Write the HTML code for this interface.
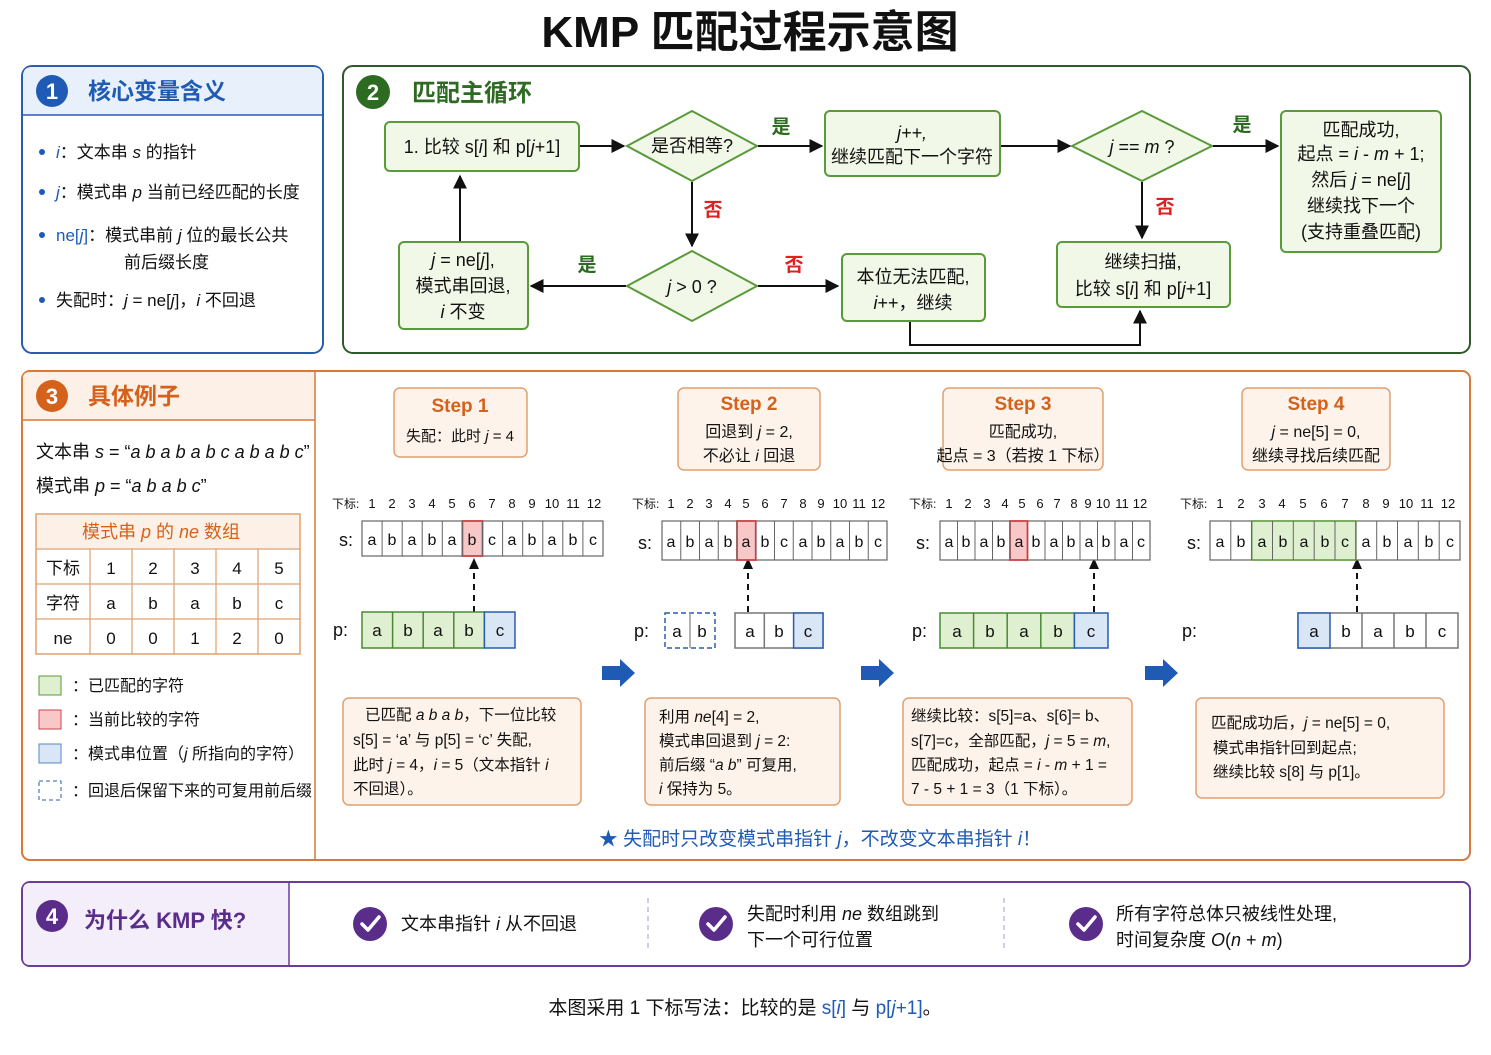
<!DOCTYPE html>
<html><head><meta charset="utf-8"><style>
body{margin:0;background:#fff;}
svg{display:block;font-family:"Liberation Sans","Noto Sans CJK SC",sans-serif;}
.it{font-style:italic}
</style></head><body>
<svg width="1491" height="1055" viewBox="0 0 1491 1055" xmlns="http://www.w3.org/2000/svg">
<defs>
<marker id="ah" viewBox="0 0 10 10" refX="9" refY="5" markerWidth="7" markerHeight="7" orient="auto"><path d="M0,0L10,5L0,10z" fill="#111"/></marker>
</defs>
<text x="750" y="47" font-size="44" font-weight="bold" text-anchor="middle" fill="#111">KMP 匹配过程示意图</text>

<!-- Panel 1 -->
<rect x="22" y="66" width="301" height="287" rx="10" fill="#fff" stroke="#2a5db0" stroke-width="2"/>
<path d="M23,115 L23,76 Q23,67 32,67 L313,67 Q322,67 322,76 L322,115 Z" fill="#e8f0fb"/>
<line x1="22" y1="115" x2="323" y2="115" stroke="#2a5db0" stroke-width="1.5"/>
<circle cx="52" cy="91" r="16" fill="#1f5bb5"/><text x="52" y="99" font-size="22" font-weight="bold" fill="#fff" text-anchor="middle">1</text>
<text x="88" y="99" font-size="23" font-weight="bold" fill="#1f5bb5">核心变量含义</text>
<g font-size="17" fill="#111">
<circle cx="42" cy="152" r="3" fill="#1f5bb5"/><text x="56" y="158"><tspan class="it" fill="#1f5bb5">i</tspan>：文本串 <tspan class="it">s</tspan> 的指针</text>
<circle cx="42" cy="192" r="3" fill="#1f5bb5"/><text x="56" y="198"><tspan class="it" fill="#1f5bb5">j</tspan>：模式串 <tspan class="it">p</tspan> 当前已经匹配的长度</text>
<circle cx="42" cy="235" r="3" fill="#1f5bb5"/><text x="56" y="241"><tspan fill="#1f5bb5">ne[<tspan class="it">j</tspan>]</tspan>：模式串前 <tspan class="it">j</tspan> 位的最长公共</text>
<text x="124" y="268">前后缀长度</text>
<circle cx="42" cy="300" r="3" fill="#1f5bb5"/><text x="56" y="306">失配时：<tspan class="it">j</tspan> = ne[<tspan class="it">j</tspan>]，<tspan class="it">i</tspan> 不回退</text>
</g>

<!-- Panel 2 -->
<rect x="343" y="66" width="1127" height="287" rx="10" fill="#fff" stroke="#2f5a2a" stroke-width="2"/>
<circle cx="373" cy="92" r="17" fill="#2e6b22"/><text x="373" y="100" font-size="22" font-weight="bold" fill="#fff" text-anchor="middle">2</text>
<text x="412" y="101" font-size="24" font-weight="bold" fill="#2e6b22">匹配主循环</text>
<g stroke="#5a9a3a" stroke-width="2" fill="#f1f8e8">
<rect x="385" y="122" width="194" height="49" rx="5"/>
<polygon points="627,146 692,111 757,146 692,181"/>
<rect x="825" y="111" width="175" height="65" rx="5"/>
<polygon points="1072,146 1142,111 1212,146 1142,181"/>
<rect x="1281" y="111" width="160" height="141" rx="5"/>
<polygon points="627,286 692,251 757,286 692,321"/>
<rect x="399" y="242" width="129" height="87" rx="5"/>
<rect x="842" y="254" width="143" height="67" rx="5"/>
<rect x="1057" y="242" width="173" height="65" rx="5"/>
</g>
<g font-size="18" fill="#111" text-anchor="middle">
<text x="482" y="153">1. 比较 s[<tspan class="it">i</tspan>] 和 p[<tspan class="it">j</tspan>+1]</text>
<text x="692" y="152">是否相等?</text>
<text x="912" y="139" class="it">j++,</text>
<text x="912" y="163">继续匹配下一个字符</text>
<text x="1142" y="153"><tspan class="it">j</tspan> == <tspan class="it">m</tspan> ?</text>
<text x="1361" y="136">匹配成功,</text>
<text x="1361" y="160">起点 = <tspan class="it">i</tspan> - <tspan class="it">m</tspan> + 1;</text>
<text x="1361" y="186">然后 <tspan class="it">j</tspan> = ne[<tspan class="it">j</tspan>]</text>
<text x="1361" y="212">继续找下一个</text>
<text x="1361" y="238">(支持重叠匹配)</text>
<text x="692" y="293"><tspan class="it">j</tspan> &gt; 0 ?</text>
<text x="463" y="266"><tspan class="it">j</tspan> = ne[<tspan class="it">j</tspan>],</text>
<text x="463" y="292">模式串回退,</text>
<text x="463" y="318"><tspan class="it">i</tspan> 不变</text>
<text x="913" y="283">本位无法匹配,</text>
<text x="913" y="309"><tspan class="it">i</tspan>++，继续</text>
<text x="1143" y="268">继续扫描,</text>
<text x="1143" y="295">比较 s[<tspan class="it">i</tspan>] 和 p[<tspan class="it">j</tspan>+1]</text>
</g>
<g stroke="#111" stroke-width="2" fill="none" marker-end="url(#ah)">
<line x1="580" y1="146" x2="624" y2="146"/>
<line x1="758" y1="146" x2="822" y2="146"/>
<line x1="1001" y1="146" x2="1070" y2="146"/>
<line x1="1213" y1="146" x2="1278" y2="146"/>
<line x1="692" y1="182" x2="692" y2="246"/>
<line x1="1142" y1="182" x2="1142" y2="238"/>
<line x1="626" y1="286" x2="531" y2="286"/>
<line x1="758" y1="286" x2="838" y2="286"/>
<line x1="460" y1="241" x2="460" y2="176"/>
<polyline points="910,322 910,345 1140,345 1140,311"/>
</g>
<g font-size="19" font-weight="bold">
<text x="781" y="133" fill="#2e6b22" text-anchor="middle">是</text>
<text x="1242" y="131" fill="#2e6b22" text-anchor="middle">是</text>
<text x="587" y="271" fill="#2e6b22" text-anchor="middle">是</text>
<text x="713" y="216" fill="#d22" text-anchor="middle">否</text>
<text x="1165" y="213" fill="#d22" text-anchor="middle">否</text>
<text x="794" y="271" fill="#d22" text-anchor="middle">否</text>
</g>

<!-- Panel 3 -->
<rect x="22" y="371" width="1448" height="489" rx="8" fill="#fff" stroke="#d9793a" stroke-width="2"/>
<path d="M23,420 L23,378 Q23,372 30,372 L315,372 L315,420 Z" fill="#fdf0e6"/>
<line x1="22" y1="420" x2="315" y2="420" stroke="#d9793a" stroke-width="1.5"/>
<line x1="315" y1="371" x2="315" y2="860" stroke="#d9793a" stroke-width="1.5"/>
<circle cx="52" cy="396" r="16" fill="#d4621c"/><text x="52" y="404" font-size="22" font-weight="bold" fill="#fff" text-anchor="middle">3</text>
<text x="88" y="404" font-size="23" font-weight="bold" fill="#d4621c">具体例子</text>
<text x="36" y="458" font-size="18" fill="#111">文本串 <tspan class="it">s</tspan> = “<tspan class="it">a b a b a b c a b a b c</tspan>”</text>
<text x="36" y="492" font-size="18" fill="#111">模式串 <tspan class="it">p</tspan> = “<tspan class="it">a b a b c</tspan>”</text>
<rect x="36" y="514" width="264" height="140" fill="#fff" stroke="#e0a070" stroke-width="1.5"/>
<rect x="37" y="515" width="262" height="34" fill="#fdf0e6"/>
<text x="161" y="538" font-size="18" fill="#d4621c" text-anchor="middle">模式串 <tspan class="it">p</tspan> 的 <tspan class="it">ne</tspan> 数组</text>
<g stroke="#e0a070" stroke-width="1.2">
<line x1="36" y1="549" x2="300" y2="549"/><line x1="36" y1="584" x2="300" y2="584"/><line x1="36" y1="619" x2="300" y2="619"/>
<line x1="90" y1="549" x2="90" y2="654"/><line x1="132" y1="549" x2="132" y2="654"/><line x1="174" y1="549" x2="174" y2="654"/><line x1="216" y1="549" x2="216" y2="654"/><line x1="258" y1="549" x2="258" y2="654"/>
</g>
<g font-size="17" fill="#111" text-anchor="middle">
<text x="63" y="574">下标</text><text x="111" y="574">1</text><text x="153" y="574">2</text><text x="195" y="574">3</text><text x="237" y="574">4</text><text x="279" y="574">5</text>
<text x="63" y="609">字符</text><text x="111" y="609">a</text><text x="153" y="609">b</text><text x="195" y="609">a</text><text x="237" y="609">b</text><text x="279" y="609">c</text>
<text x="63" y="644">ne</text><text x="111" y="644">0</text><text x="153" y="644">0</text><text x="195" y="644">1</text><text x="237" y="644">2</text><text x="279" y="644">0</text>
</g>
<rect x="39" y="676" width="22" height="19" fill="#dff0d0" stroke="#5a9a3a"/>
<rect x="39" y="710" width="22" height="19" fill="#f8c8c8" stroke="#c44"/>
<rect x="39" y="744" width="22" height="19" fill="#d8e6f6" stroke="#5a86c4"/>
<rect x="39" y="781" width="22" height="19" fill="#fff" stroke="#2a5db0" stroke-dasharray="4,3"/>
<g font-size="16" fill="#111">
<text x="72" y="691">：已匹配的字符</text>
<text x="72" y="725">：当前比较的字符</text>
<text x="72" y="759">：模式串位置（<tspan class="it">j</tspan> 所指向的字符）</text>
<text x="72" y="796">：回退后保留下来的可复用前后缀</text>
</g>

<!-- Step boxes -->
<g stroke="#e0a070" stroke-width="1.5" fill="#fdf3ea">
<rect x="394" y="388" width="133" height="69" rx="6"/>
<rect x="678" y="388" width="142" height="82" rx="6"/>
<rect x="943" y="388" width="160" height="82" rx="6"/>
<rect x="1242" y="388" width="148" height="82" rx="6"/>
</g>
<g text-anchor="middle">
<text x="460" y="412" font-size="19" font-weight="bold" fill="#d4621c">Step 1</text>
<text x="460" y="441" font-size="15" fill="#111">失配：此时 <tspan class="it">j</tspan> = 4</text>
<text x="749" y="410" font-size="19" font-weight="bold" fill="#d4621c">Step 2</text>
<text x="749" y="437" font-size="16" fill="#111">回退到 <tspan class="it">j</tspan> = 2,</text>
<text x="749" y="461" font-size="16" fill="#111">不必让 <tspan class="it">i</tspan> 回退</text>
<text x="1023" y="410" font-size="19" font-weight="bold" fill="#d4621c">Step 3</text>
<text x="1023" y="437" font-size="16" fill="#111">匹配成功,</text>
<text x="1023" y="461" font-size="16" fill="#111">起点 = 3（若按 1 下标）</text>
<text x="1316" y="410" font-size="19" font-weight="bold" fill="#d4621c">Step 4</text>
<text x="1316" y="437" font-size="16" fill="#111"><tspan class="it">j</tspan> = ne[5] = 0,</text>
<text x="1316" y="461" font-size="16" fill="#111">继续寻找后续匹配</text>
</g>

<!-- Arrays -->
<g font-size="12" fill="#111">
<text x="332" y="508">下标:</text>
<text x="632" y="508">下标:</text>
<text x="909" y="508">下标:</text>
<text x="1180" y="508">下标:</text>
</g>
<g font-size="18" fill="#111">
<text x="339" y="546">s:</text><text x="333" y="636">p:</text>
<text x="638" y="549">s:</text><text x="634" y="637">p:</text>
<text x="916" y="549">s:</text><text x="912" y="637">p:</text>
<text x="1187" y="549">s:</text><text x="1182" y="637">p:</text>
</g>
<g id="arrays" stroke-width="1.2" font-size="16" text-anchor="middle"></g>

<g stroke="#111" stroke-width="2" stroke-dasharray="6,5" fill="none">
<line x1="474" y1="612" x2="474" y2="566"/>
<line x1="748" y1="612" x2="748" y2="566"/>
<line x1="1094" y1="612" x2="1094" y2="566"/>
<line x1="1357" y1="612" x2="1357" y2="566"/>
</g>
<g fill="#111">
<polygon points="474,558 469,569 479,569"/>
<polygon points="748,558 743,569 753,569"/>
<polygon points="1094,558 1089,569 1099,569"/>
<polygon points="1357,558 1352,569 1362,569"/>
</g>
<g fill="#1f5bb5">
<polygon points="602,666 620,666 620,659 635,673 620,687 620,680 602,680"/>
<polygon points="861,666 879,666 879,659 894,673 879,687 879,680 861,680"/>
<polygon points="1145,666 1163,666 1163,659 1178,673 1163,687 1163,680 1145,680"/>
</g>

<!-- Notes -->
<g stroke="#e0a070" stroke-width="1.5" fill="#fdf3ea">
<rect x="343" y="698" width="238" height="107" rx="6"/>
<rect x="645" y="698" width="195" height="107" rx="6"/>
<rect x="903" y="698" width="229" height="107" rx="6"/>
<rect x="1196" y="698" width="248" height="100" rx="6"/>
</g>
<g font-size="15.5" fill="#111">
<text x="365" y="720">已匹配 <tspan class="it">a b a b</tspan>，下一位比较</text>
<text x="353" y="745">s[5] = ‘a’ 与 p[5] = ‘c’ 失配,</text>
<text x="353" y="770">此时 <tspan class="it">j</tspan> = 4，<tspan class="it">i</tspan> = 5（文本指针 <tspan class="it">i</tspan></text>
<text x="353" y="794">不回退）。</text>
<text x="659" y="722">利用 <tspan class="it">ne</tspan>[4] = 2,</text>
<text x="659" y="746">模式串回退到 <tspan class="it">j</tspan> = 2:</text>
<text x="659" y="770">前后缀 “<tspan class="it">a b</tspan>” 可复用,</text>
<text x="659" y="794"><tspan class="it">i</tspan> 保持为 5。</text>
<text x="911" y="721">继续比较：s[5]=a、s[6]= b、</text>
<text x="911" y="746">s[7]=c，全部匹配，<tspan class="it">j</tspan> = 5 = <tspan class="it">m</tspan>,</text>
<text x="911" y="770">匹配成功，起点 = <tspan class="it">i</tspan> - <tspan class="it">m</tspan> + 1 =</text>
<text x="911" y="794">7 - 5 + 1 = 3（1 下标）。</text>
<text x="1211" y="728">匹配成功后，<tspan class="it">j</tspan> = ne[5] = 0,</text>
<text x="1213" y="753">模式串指针回到起点;</text>
<text x="1213" y="777">继续比较 s[8] 与 p[1]。</text>
</g>
<text x="820" y="845" font-size="19" fill="#1f5bb5" text-anchor="middle">★ 失配时只改变模式串指针 <tspan class="it">j</tspan>，不改变文本串指针 <tspan class="it">i</tspan>！</text>

<!-- Panel 4 -->
<rect x="22" y="882" width="1448" height="84" rx="8" fill="#fff" stroke="#6a3d9a" stroke-width="2"/>
<path d="M23,890 Q23,883 30,883 L289,883 L289,965 L30,965 Q23,965 23,958 Z" fill="#f3eefa"/>
<line x1="289" y1="882" x2="289" y2="966" stroke="#6a3d9a" stroke-width="1.5"/>
<circle cx="52" cy="916" r="16" fill="#5b2d8a"/><text x="52" y="924" font-size="22" font-weight="bold" fill="#fff" text-anchor="middle">4</text>
<text x="84" y="928" font-size="22" font-weight="bold" fill="#5b2d8a">为什么 KMP 快?</text>
<g stroke="#c8b8dc" stroke-width="1.5" stroke-dasharray="5,4"><line x1="648" y1="898" x2="648" y2="950"/><line x1="1004" y1="898" x2="1004" y2="950"/></g>
<g fill="#5b2d8a"><circle cx="370" cy="924" r="17"/><circle cx="716" cy="924" r="17"/><circle cx="1086" cy="924" r="17"/></g>
<g stroke="#fff" stroke-width="3.5" fill="none" stroke-linecap="round" stroke-linejoin="round">
<polyline points="362,924 368,930 379,917"/><polyline points="708,924 714,930 725,917"/><polyline points="1078,924 1084,930 1095,917"/>
</g>
<g font-size="18" fill="#111">
<text x="401" y="930">文本串指针 <tspan class="it">i</tspan> 从不回退</text>
<text x="747" y="920">失配时利用 <tspan class="it">ne</tspan> 数组跳到</text>
<text x="747" y="946">下一个可行位置</text>
<text x="1116" y="920">所有字符总体只被线性处理,</text>
<text x="1116" y="946">时间复杂度 <tspan class="it">O</tspan>(<tspan class="it">n</tspan> + <tspan class="it">m</tspan>)</text>
</g>
<text x="745" y="1014" font-size="19" fill="#111" text-anchor="middle">本图采用 1 下标写法：比较的是 <tspan fill="#1f5bb5">s[<tspan class="it">i</tspan>]</tspan> 与 <tspan fill="#1f5bb5">p[<tspan class="it">j</tspan>+1]</tspan>。</text>

<!-- arrays drawn statically -->
<g font-size="13" fill="#111" text-anchor="middle">
<text x="372" y="508">1</text><text x="392" y="508">2</text><text x="412" y="508">3</text><text x="432" y="508">4</text><text x="452" y="508">5</text><text x="472" y="508">6</text><text x="492" y="508">7</text><text x="512" y="508">8</text><text x="532" y="508">9</text><text x="552" y="508">10</text><text x="573" y="508">11</text><text x="594" y="508">12</text>
<text x="671" y="508">1</text><text x="690" y="508">2</text><text x="709" y="508">3</text><text x="728" y="508">4</text><text x="746" y="508">5</text><text x="765" y="508">6</text><text x="784" y="508">7</text><text x="803" y="508">8</text><text x="821" y="508">9</text><text x="840" y="508">10</text><text x="859" y="508">11</text><text x="878" y="508">12</text>
<text x="949" y="508">1</text><text x="968" y="508">2</text><text x="987" y="508">3</text><text x="1005" y="508">4</text><text x="1022" y="508">5</text><text x="1040" y="508">6</text><text x="1057" y="508">7</text><text x="1074" y="508">8</text><text x="1088" y="508">9</text><text x="1103" y="508">10</text><text x="1122" y="508">11</text><text x="1140" y="508">12</text>
<text x="1220" y="508">1</text><text x="1241" y="508">2</text><text x="1262" y="508">3</text><text x="1282" y="508">4</text><text x="1303" y="508">5</text><text x="1324" y="508">6</text><text x="1345" y="508">7</text><text x="1366" y="508">8</text><text x="1386" y="508">9</text><text x="1406" y="508">10</text><text x="1427" y="508">11</text><text x="1448" y="508">12</text>
</g>

<!-- Step1 s -->
<g stroke="#666" stroke-width="1.2" fill="#fff">
<rect x="362" y="521" width="241" height="35"/>
<rect x="462.4" y="521" width="20.1" height="35" fill="#f8c8c8" stroke="#c44" stroke-width="1.8"/>
<rect x="662" y="521" width="225" height="39"/>
<rect x="737" y="521" width="18.75" height="39" fill="#f8c8c8" stroke="#c44" stroke-width="1.8"/>
<rect x="940" y="521" width="210" height="39"/>
<rect x="1010" y="521" width="17.5" height="39" fill="#f8c8c8" stroke="#c44" stroke-width="1.8"/>
<rect x="1210" y="521" width="250" height="39"/>
<rect x="1251.7" y="521" width="104.2" height="39" fill="#dff0d0" stroke="#5a9a3a" stroke-width="1.5"/>
</g>
<g stroke="#666" stroke-width="1">
<path d="M382.1,521v35M402.2,521v35M422.2,521v35M442.3,521v35M462.4,521v35M482.5,521v35M502.6,521v35M522.7,521v35M542.8,521v35M562.8,521v35M582.9,521v35"/>
<path d="M680.75,521v39M699.5,521v39M718.25,521v39M737,521v39M755.75,521v39M774.5,521v39M793.25,521v39M812,521v39M830.75,521v39M849.5,521v39M868.25,521v39"/>
<path d="M957.5,521v39M975,521v39M992.5,521v39M1010,521v39M1027.5,521v39M1045,521v39M1062.5,521v39M1080,521v39M1097.5,521v39M1115,521v39M1132.5,521v39"/>
<path d="M1230.8,521v39M1251.7,521v39M1272.5,521v39M1293.3,521v39M1314.2,521v39M1335,521v39M1355.9,521v39M1376.7,521v39M1397.5,521v39M1418.3,521v39M1439.2,521v39"/>
</g>
<g font-size="16" fill="#111" text-anchor="middle">
<text x="372" y="545">a</text><text x="392" y="545">b</text><text x="412" y="545">a</text><text x="432" y="545">b</text><text x="452" y="545">a</text><text x="472" y="545">b</text><text x="492" y="545">c</text><text x="512" y="545">a</text><text x="532" y="545">b</text><text x="552" y="545">a</text><text x="573" y="545">b</text><text x="593" y="545">c</text>
<text x="671" y="547">a</text><text x="690" y="547">b</text><text x="709" y="547">a</text><text x="728" y="547">b</text><text x="746" y="547">a</text><text x="765" y="547">b</text><text x="784" y="547">c</text><text x="803" y="547">a</text><text x="821" y="547">b</text><text x="840" y="547">a</text><text x="859" y="547">b</text><text x="878" y="547">c</text>
<text x="949" y="547">a</text><text x="966" y="547">b</text><text x="984" y="547">a</text><text x="1001" y="547">b</text><text x="1019" y="547">a</text><text x="1036" y="547">b</text><text x="1054" y="547">a</text><text x="1071" y="547">b</text><text x="1089" y="547">a</text><text x="1106" y="547">b</text><text x="1124" y="547">a</text><text x="1141" y="547">c</text>
<text x="1220" y="547">a</text><text x="1241" y="547">b</text><text x="1262" y="547">a</text><text x="1283" y="547">b</text><text x="1304" y="547">a</text><text x="1325" y="547">b</text><text x="1345" y="547">c</text><text x="1366" y="547">a</text><text x="1387" y="547">b</text><text x="1408" y="547">a</text><text x="1429" y="547">b</text><text x="1450" y="547">c</text>
</g>

<!-- p rows -->
<g stroke-width="1.5">
<rect x="362" y="612" width="122.4" height="36" fill="#dff0d0" stroke="#4a8a34"/>
<rect x="484.4" y="612" width="30.6" height="36" fill="#d8e6f6" stroke="#2a5db0"/>
<path d="M392.6,612v36M423.2,612v36M453.8,612v36" stroke="#4a8a34"/>
<rect x="665" y="613" width="50" height="35" fill="#fff" stroke="#2a5db0" stroke-dasharray="5,3"/>
<line x1="690" y1="613" x2="690" y2="648" stroke="#999"/>
<rect x="735" y="613" width="88" height="35" fill="#fff" stroke="#777"/>
<line x1="764.3" y1="613" x2="764.3" y2="648" stroke="#777"/>
<rect x="793.6" y="613" width="29.4" height="35" fill="#d8e6f6" stroke="#2a5db0"/>
<rect x="940" y="613" width="134.4" height="35" fill="#dff0d0" stroke="#4a8a34"/>
<path d="M973.6,613v35M1007.2,613v35M1040.8,613v35" stroke="#4a8a34"/>
<rect x="1074.4" y="613" width="33.6" height="35" fill="#d8e6f6" stroke="#2a5db0"/>
<rect x="1298" y="613" width="160" height="35" fill="#fff" stroke="#777"/>
<path d="M1362,613v35M1394,613v35M1426,613v35" stroke="#777"/>
<rect x="1298" y="613" width="32" height="35" fill="#d8e6f6" stroke="#2a5db0"/>
</g>
<g font-size="17" fill="#111" text-anchor="middle">
<text x="377" y="636">a</text><text x="408" y="636">b</text><text x="438" y="636">a</text><text x="469" y="636">b</text><text x="500" y="636">c</text>
<text x="677" y="637">a</text><text x="702" y="637">b</text><text x="750" y="637">a</text><text x="779" y="637">b</text><text x="808" y="637">c</text>
<text x="957" y="637">a</text><text x="990" y="637">b</text><text x="1024" y="637">a</text><text x="1058" y="637">b</text><text x="1091" y="637">c</text>
<text x="1314" y="637">a</text><text x="1346" y="637">b</text><text x="1378" y="637">a</text><text x="1410" y="637">b</text><text x="1442" y="637">c</text>
</g>
</svg>
</body></html>
